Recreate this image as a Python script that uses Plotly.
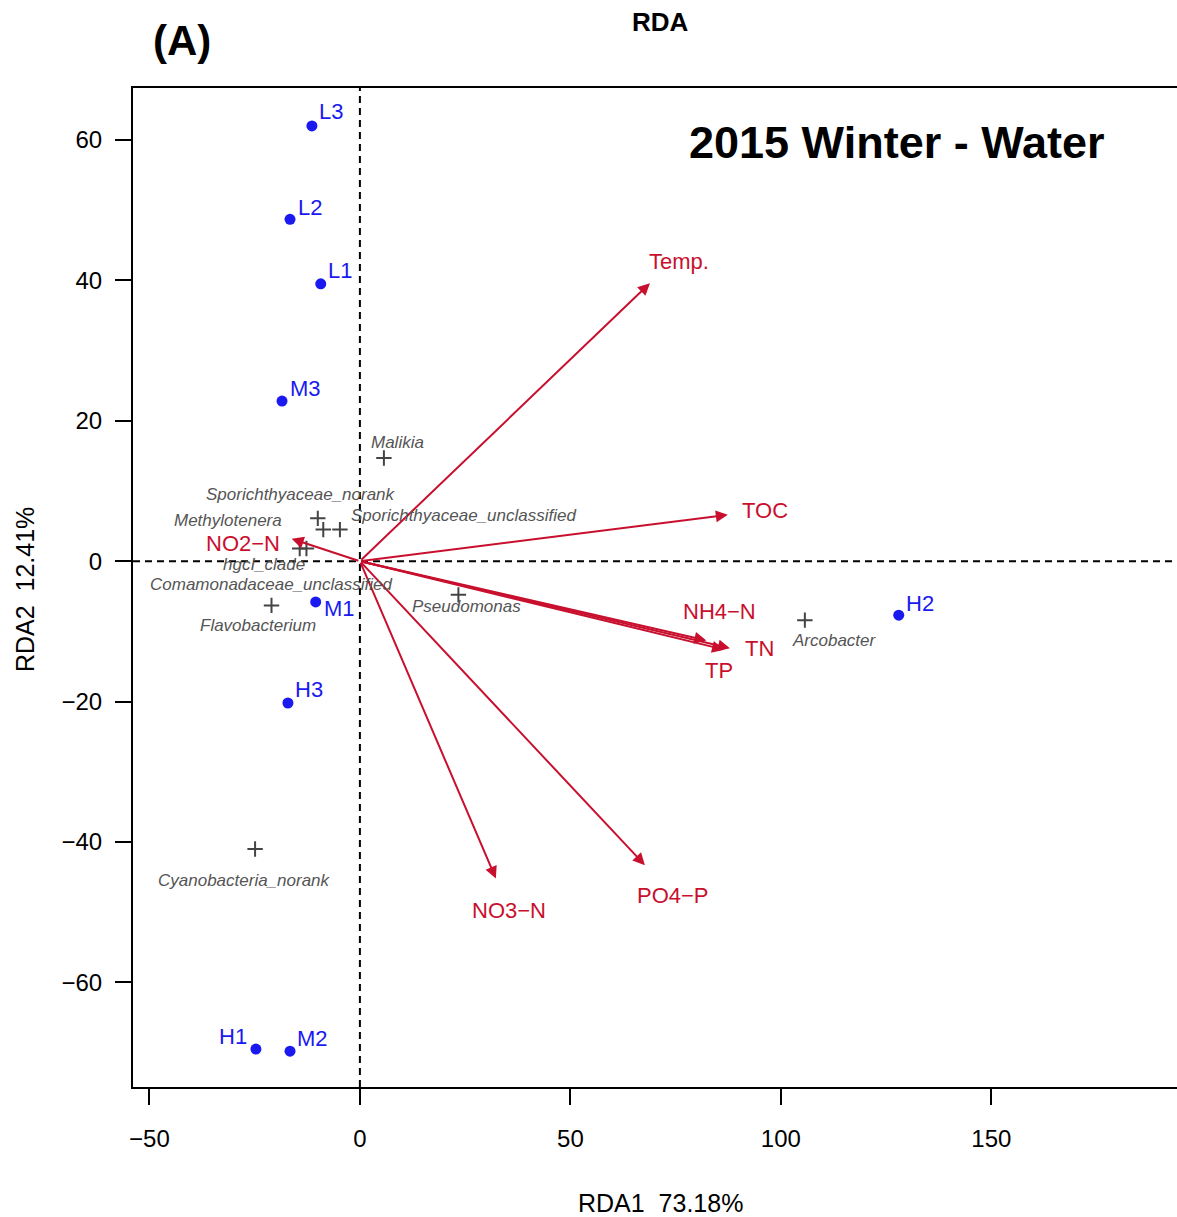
import plotly.graph_objects as go

# ---- data ----
site_names = ["L3", "L2", "L1", "M3", "M1", "H3", "H1", "M2", "H2"]
site_x = [-11.4, -16.6, -9.3, -18.5, -10.5, -17.1, -24.7, -16.6, 128.0]
site_y = [62.0, 48.7, 39.5, 22.8, -5.8, -20.2, -69.5, -69.8, -7.7]

species_names = ["Malikia", "Sporichthyaceae_norank", "Methylotenera",
                 "Sporichthyaceae_unclassified", "hgcI_clade",
                 "Comamonadaceae_unclassified", "Flavobacterium", "Pseudomonas",
                 "Arcobacter", "Cyanobacteria_norank"]
species_x = [5.7, -10.0, -8.7, -4.75, -14.3, -12.7, -21.0, 23.4, 105.7, -24.9]
species_y = [14.7, 6.1, 4.5, 4.5, 1.8, 1.8, -6.3, -4.8, -8.4, -41.0]

env_names = ["Temp.", "TOC", "NH4\u2212N", "TN", "TP", "NO2\u2212N", "NO3\u2212N", "PO4\u2212P"]
env_x = [68.9, 87.4, 82.3, 87.9, 86.5, -16.2, 32.3, 67.7]
env_y = [39.6, 6.6, -11.3, -12.4, -12.6, 3.2, -45.2, -43.3]

x_ticks = [-50, 0, 50, 100, 150]
y_ticks = [-60, -40, -20, 0, 20, 40, 60]

# ---- styling / layout helpers ----
FONT = "Arial, Liberation Sans, sans-serif"
RED = "#C8102E"
BLUE = "#1A1AF0"
GREY = "#444444"
LABEL_MULT = 1.1

site_label_shift = {  # (xanchor, xshift, yshift) in px
    "L3": ("left", 5, 14), "L2": ("left", 6, 12), "L1": ("left", 5, 13),
    "M3": ("left", 6, 13), "M1": ("left", 6, -7), "H3": ("left", 5, 13),
    "H1": ("right", -7, 13), "M2": ("left", 5, 13), "H2": ("left", 5, 12),
}
species_label_shift = {
    "Malikia": (14, 15), "Sporichthyaceae_norank": (-17, 24),
    "Methylotenera": (-95, 9), "Sporichthyaceae_unclassified": (124, 14),
    "hgcI_clade": (-36, -16), "Comamonadaceae_unclassified": (-35, -36),
    "Flavobacterium": (-14, -20), "Pseudomonas": (8, -12),
    "Arcobacter": (30, -20), "Cyanobacteria_norank": (-11, -31),
}
env_label_shift = [(0, -6), (0, 0), (-22, 37), (-7, 8), (-41, -12), (-42, -7), (0, 0), (0, 0)]

fig = go.Figure()

# reference lines
fig.add_shape(type="line", x0=0, x1=0, y0=0, y1=1, xref="x", yref="paper",
              line=dict(color="black", width=2, dash="7px,5px"), layer="below")
fig.add_shape(type="line", x0=0, x1=1, y0=0, y1=0, xref="paper", yref="y",
              line=dict(color="black", width=2, dash="7px,5px"), layer="below")

# species
fig.add_trace(go.Scatter(x=species_x, y=species_y, mode="markers",
                         marker=dict(symbol="cross-thin", size=11,
                                     line=dict(color=GREY, width=2)),
                         hoverinfo="text", text=species_names, showlegend=False))
# sites
fig.add_trace(go.Scatter(x=site_x, y=site_y, mode="markers",
                         marker=dict(symbol="circle", size=11, color=BLUE),
                         hoverinfo="text", text=site_names, showlegend=False))

annotations = []
# env arrows
for name, ex, ey, (sx, sy) in zip(env_names, env_x, env_y, env_label_shift):
    annotations.append(dict(x=ex, y=ey, ax=0, ay=0, xref="x", yref="y",
                            axref="x", ayref="y", text="", showarrow=True,
                            arrowhead=2, arrowsize=1.2, arrowwidth=2,
                            arrowcolor=RED, standoff=0, startstandoff=0))
    annotations.append(dict(x=ex * LABEL_MULT, y=ey * LABEL_MULT, xref="x", yref="y",
                            text=name, showarrow=False, xshift=sx, yshift=sy,
                            xanchor="center", yanchor="middle",
                            font=dict(family=FONT, size=22, color=RED)))

for n, sx_, sy_ in zip(site_names, site_x, site_y):
    anc, xs, ys = site_label_shift[n]
    annotations.append(dict(x=sx_, y=sy_, xref="x", yref="y", text=n,
                            showarrow=False, xanchor=anc, yanchor="middle",
                            xshift=xs, yshift=ys,
                            font=dict(family=FONT, size=22, color=BLUE)))

for n, px_, py_ in zip(species_names, species_x, species_y):
    xs, ys = species_label_shift[n]
    annotations.append(dict(x=px_, y=py_, xref="x", yref="y", text=f"<i>{n}</i>",
                            showarrow=False, xshift=xs, yshift=ys,
                            xanchor="center", yanchor="middle",
                            font=dict(family=FONT, size=17, color="#555555")))

# titles
annotations += [
    dict(x=0.5048, y=1.066, xref="paper", yref="paper", text="<b>RDA</b>",
         font=dict(family=FONT, size=26, color="black")),
    dict(x=0.0469, y=1.048, xref="paper", yref="paper", text="<b>(A)</b>",
         font=dict(family=FONT, size=42, color="black")),
    dict(x=0.7318, y=0.945, xref="paper", yref="paper", text="<b>2015 Winter - Water</b>",
         font=dict(family=FONT, size=45, color="black")),
    dict(x=0.5048, y=-0.1161, xref="paper", yref="paper", text="RDA1\u00a0\u00a073.18%",
         font=dict(family=FONT, size=25, color="black")),
    dict(x=-0.1034, y=0.4975, xref="paper", yref="paper", text="RDA2\u00a0\u00a012.41%",
         textangle=-90, font=dict(family=FONT, size=25, color="black")),
]
for a in annotations[-5:]:
    a.update(showarrow=False, xanchor="center", yanchor="middle")

fig.update_layout(
    width=1177, height=1217,
    margin=dict(l=133, r=0, t=88, b=130),
    paper_bgcolor="white", plot_bgcolor="white",
    annotations=annotations,
    showlegend=False,
    font=dict(family=FONT, color="black"),
)
fig.update_xaxes(range=[-53.9, 194.1], tickvals=x_ticks,
                 ticktext=["\u221250", "0", "50", "100", "150"],
                 showgrid=False, zeroline=False, showline=True, linewidth=2,
                 linecolor="black", mirror=True, ticks="outside", ticklen=16,
                 tickwidth=2, tickcolor="black", ticklabelstandoff=13,
                 tickfont=dict(family=FONT, size=24, color="black"))
fig.update_yaxes(range=[-74.9, 67.4], tickvals=y_ticks,
                 ticktext=["\u221260", "\u221240", "\u221220", "0", "20", "40", "60"],
                 showgrid=False, zeroline=False, showline=True, linewidth=2,
                 linecolor="black", mirror=False, ticks="outside", ticklen=16,
                 tickwidth=2, tickcolor="black", ticklabelstandoff=8,
                 tickfont=dict(family=FONT, size=24, color="black"))

fig.write_html("out.html")
